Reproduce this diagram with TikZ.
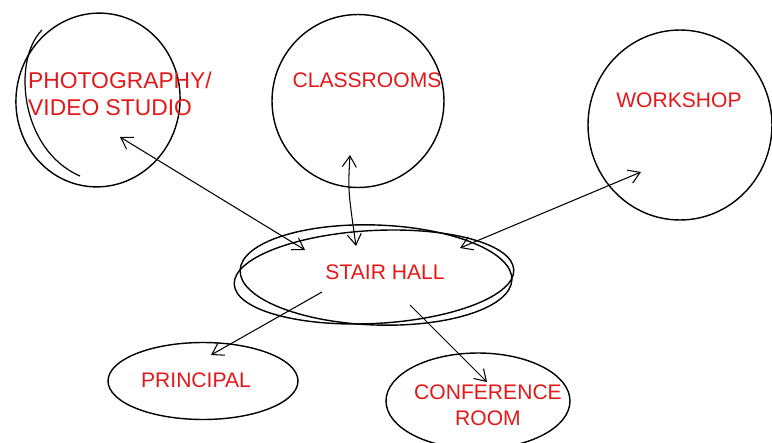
\documentclass[tikz,border=0pt]{standalone}
\usepackage{fontspec}
\setmainfont{Liberation Sans}
\usetikzlibrary{arrows.meta,positioning,shapes.geometric}
\definecolor{sketchred}{RGB}{228,24,24}

\begin{document}
\begin{tikzpicture}[x=0.02cm, y=-0.02cm,
    room/.style={ellipse, draw, line width=0.8pt, inner sep=0pt},
    lbl/.style={text=sketchred, font=\fontsize{12}{15}\selectfont, align=center},
    arr/.style={-{Straight Barb[length=2.2mm,width=2.8mm]}, line width=0.6pt},
    both/.style={{Straight Barb[length=2.2mm,width=2.8mm]}-{Straight Barb[length=2.2mm,width=2.8mm]}, line width=0.6pt},
]
\useasboundingbox (0,0) rectangle (772,443);

% Upper rooms
\node[room, minimum width=3.28cm, minimum height=3.48cm, rotate=-8] (photo) at (98,100) {};
\node[room, minimum width=3.44cm, minimum height=3.46cm] (class) at (358,101) {};
\node[room, minimum width=3.68cm, minimum height=3.8cm] (work) at (680,125) {};
\draw[line width=0.7pt] (42,30) .. controls (12,60) and (20,150) .. (80,176);

\node[lbl, anchor=west, align=left, font=\fontsize{13}{15}\selectfont] (photo-txt) at (22,94) {PHOTOGRAPHY/\\VIDEO STUDIO};
\node[lbl] (class-txt) at (367,80) {CLASSROOMS};
\node[lbl] (work-txt) at (679,100) {WORKSHOP};

% Stair hall
\node[room, minimum width=5.44cm, minimum height=2.0cm, rotate=-2] (hall) at (376,275) {};
\node[room, minimum width=5.6cm, minimum height=1.86cm, rotate=3] (hall2) at (374,277) {};
\node[lbl] (hall-txt) at (385,272) {STAIR HALL};

% Lower rooms
\node[room, minimum width=3.8cm, minimum height=1.54cm] (princ) at (203,381) {};
\node[room, minimum width=3.68cm, minimum height=1.92cm] (conf) at (478,401) {};
\node[lbl] (princ-txt) at (196,380) {PRINCIPAL};
\node[lbl] (conf-txt) at (488,405) {CONFERENCE\\ROOM};

% Arrow ends
\coordinate (photo-in) at (120,137);
\coordinate (class-in) at (350,155);
\coordinate (work-in) at (641,172);
\coordinate (hall-nw) at (305,250);
\coordinate (hall-n) at (356,246);
\coordinate (hall-ne) at (460,248);
\coordinate (hall-sw) at (322,292);
\coordinate (hall-se) at (410,305);
\coordinate (princ-in) at (211,355);
\coordinate (conf-in) at (487,382);

% Connections
\draw[both] (photo-in) -- (hall-nw);
\draw[both] (class-in) .. controls (348,190) .. (hall-n);
\draw[both] (work-in) -- (hall-ne);
\draw[arr] (hall-sw) -- (princ-in);
\draw[arr] (hall-se) -- (conf-in);

\end{tikzpicture}
\end{document}
